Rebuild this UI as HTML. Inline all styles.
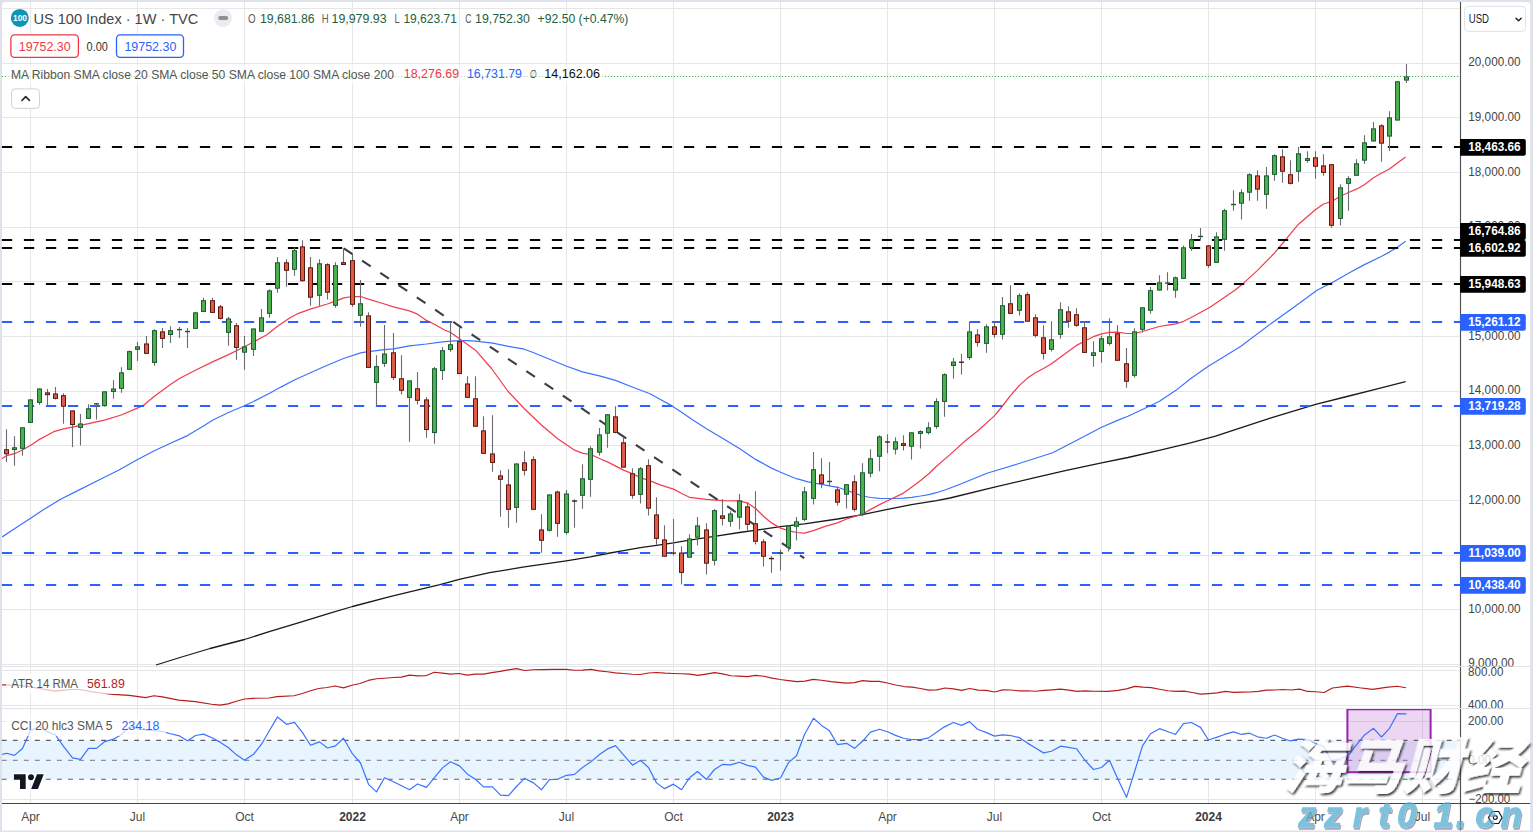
<!DOCTYPE html><html><head><meta charset="utf-8"><title>US 100 Index chart</title><style>html,body{margin:0;padding:0;background:#fff}body{width:1533px;height:832px;overflow:hidden}svg{display:block}</style></head><body><svg width="1533" height="832" viewBox="0 0 1533 832" style="font-family:'Liberation Sans','Noto Sans CJK SC',sans-serif">
<rect width="1533" height="832" fill="#dfe2ea"/>
<path d="M2 830.6V5.5a3.5 3.5 0 0 1 3.5-3.5H1526.7a3.5 3.5 0 0 1 3.5 3.5V830.6z" fill="#fff"/>
<defs><clipPath id="main"><rect x="2" y="2" width="1458" height="664.5"/></clipPath><clipPath id="all"><rect x="2" y="2" width="1458" height="801"/></clipPath><clipPath id="cci"><rect x="2" y="708.5" width="1458" height="95"/></clipPath><clipPath id="pm"><rect x="1461" y="2" width="70" height="664.6"/></clipPath><clipPath id="pa"><rect x="1461" y="666.9" width="70" height="41.4"/></clipPath><clipPath id="pc"><rect x="1461" y="708.8" width="70" height="94.2"/></clipPath></defs>
<g stroke="#e6e6e6" stroke-width="1" shape-rendering="auto">
<line x1="30.5" y1="2" x2="30.5" y2="803" />
<line x1="137.5" y1="2" x2="137.5" y2="803" />
<line x1="244.5" y1="2" x2="244.5" y2="803" />
<line x1="352.5" y1="2" x2="352.5" y2="803" />
<line x1="459.5" y1="2" x2="459.5" y2="803" />
<line x1="566.5" y1="2" x2="566.5" y2="803" />
<line x1="673.5" y1="2" x2="673.5" y2="803" />
<line x1="780.5" y1="2" x2="780.5" y2="803" />
<line x1="887.5" y1="2" x2="887.5" y2="803" />
<line x1="994.5" y1="2" x2="994.5" y2="803" />
<line x1="1101.5" y1="2" x2="1101.5" y2="803" />
<line x1="1208.5" y1="2" x2="1208.5" y2="803" />
<line x1="1315.5" y1="2" x2="1315.5" y2="803" />
<line x1="1422.5" y1="2" x2="1422.5" y2="803" />
<line x1="2" y1="664.5" x2="1459" y2="664.5"/>
<line x1="2" y1="609.5" x2="1459" y2="609.5"/>
<line x1="2" y1="555.5" x2="1459" y2="555.5"/>
<line x1="2" y1="500.5" x2="1459" y2="500.5"/>
<line x1="2" y1="445.5" x2="1459" y2="445.5"/>
<line x1="2" y1="391.5" x2="1459" y2="391.5"/>
<line x1="2" y1="336.5" x2="1459" y2="336.5"/>
<line x1="2" y1="281.5" x2="1459" y2="281.5"/>
<line x1="2" y1="227.5" x2="1459" y2="227.5"/>
<line x1="2" y1="172.5" x2="1459" y2="172.5"/>
<line x1="2" y1="117.5" x2="1459" y2="117.5"/>
<line x1="2" y1="63.5" x2="1459" y2="63.5"/>
<line x1="2" y1="8.5" x2="1459" y2="8.5"/>
<line x1="2" y1="670.5" x2="1459" y2="670.5"/>
<line x1="2" y1="705.5" x2="1459" y2="705.5"/>
<line x1="2" y1="721.5" x2="1459" y2="721.5"/>
<line x1="2" y1="760.5" x2="1459" y2="760.5"/>
<line x1="2" y1="799.5" x2="1459" y2="799.5"/>
</g>
<rect x="2" y="740.4" width="1458" height="38.9" fill="#e8f4fe"/>
<line x1="1.8" y1="740.4" x2="1460" y2="740.4" stroke="#5d606b" stroke-width="1.1" stroke-dasharray="4.9 6.13"/>
<line x1="1.8" y1="760.4" x2="1460" y2="760.4" stroke="#8e9199" stroke-width="1.1" stroke-dasharray="4.9 6.13"/>
<line x1="1.8" y1="779.3" x2="1460" y2="779.3" stroke="#5d606b" stroke-width="1.1" stroke-dasharray="4.9 6.13"/>
<line x1="1.9" y1="76.5" x2="1460" y2="76.5" stroke="#4caf50" stroke-width="1.1" stroke-dasharray="1.3 1.7"/>
<g clip-path="url(#main)">
<polyline fill="none" stroke="#1a1a1a" stroke-width="1.3" stroke-linejoin="round"  points="156,665 180,657.5 210,648.5 244.5,639.5 270,631.4 300,622.4 330,613.1 352.5,606.5 390,596.6 420,589.4 440,584.6 459.2,579.4 489.6,572.7 524.4,566.9 566.3,560.8 590.4,556.9 607.3,553.5 623.5,550.6 640.4,547.7 656.5,545.4 673.5,542.9 689.4,540.1 714.4,536.3 739.4,532.5 763.5,529.2 780.6,526.7 804.4,523.8 837.5,519 862.5,514.6 887.5,509.4 911.5,504.6 936.5,500.6 950,498 994.5,487.2 1033.9,477.9 1065.2,470.7 1101.6,462.8 1127.9,457.5 1159.2,450.3 1190.5,442.8 1215.5,436.2 1240.6,427.8 1271.9,417.7 1315.7,404.3 1347,396.5 1378.3,388.6 1405.6,381.7"/>
<polyline fill="none" stroke="#3b73ff" stroke-width="1.2" stroke-linejoin="round"  points="2.2,536.9 14.1,529 30.6,518.2 43.3,509.8 60.6,499.2 75.8,491.6 97.4,480.8 119,470 136.2,460.3 153.8,451 170.4,443.3 187.5,435.6 203.5,426 212.5,420.2 228.5,412.5 244.4,405.8 253.5,401.5 269.6,393.3 280.8,387.1 294.4,380 310.4,372.7 327.3,365.2 343.5,358.5 360.6,352.9 368.5,351.7 384.4,349.7 393.5,348.8 409.5,345.8 426.5,344 442.5,341.9 450.6,341.2 459.6,340.6 467.5,340.6 475.4,341.2 492.7,343.1 508.5,346.3 524.4,349.2 533.7,352.7 549.6,359.2 566.7,366.2 582.5,371.9 599.4,375.8 615.6,380.4 631.5,386.7 650,393.8 660,399.3 672,405.9 682,412.6 691.7,419.3 706.5,428.7 722.5,438.3 739.4,448.5 755.6,459.4 771.5,468.1 780.6,472.3 796.5,478.7 808.1,481.9 821.5,484.4 837.5,487.3 846.5,490.2 854.4,493.1 862.5,496 870.6,497.5 879.6,498.3 887.5,498.5 895.6,498.5 903.5,498.1 911.5,497.3 920.6,496 928.7,494.6 936.5,492.7 945,490 958.8,484.7 987,473.2 1018.3,463.8 1052.7,452.8 1077.8,439.7 1101.6,427.2 1117.5,420.4 1127.9,416.3 1146.6,407.5 1159.4,401.2 1175.6,390.6 1190.5,378.8 1208.3,366.2 1240.6,346.4 1271.9,322.9 1293.8,307.2 1317.4,290 1331.5,282.9 1348.5,273.3 1364.4,264.6 1381.3,256.5 1389.4,252.1 1397.7,246.9 1405.6,241.2"/>
<polyline fill="none" stroke="#f23d50" stroke-width="1.25" stroke-linejoin="round"  points="2,458.7 6.7,455.6 14.4,453.7 22.4,450 30.8,445.2 38.5,439.9 53.8,431.7 63.5,428.8 72.3,427.1 88.5,423.7 104.4,420.2 121.3,415 137.3,408.1 143.3,405.4 154.4,396.2 170.4,384.6 179.4,378.5 195.4,370.2 212.5,361.9 228.5,354.6 244.4,346.8 253.5,342 266.9,334.8 277.5,326.2 290,317.8 297.7,313.7 310.4,309.2 327.3,304 335.6,301.2 343.8,297.9 352.5,296.5 360.6,296.5 368.5,299.2 384.4,304 393.5,306.9 409.4,310.8 417.5,314.2 426.5,320.4 434.4,324.2 444.6,330 450.6,332.5 459.5,338.7 467.5,344.4 475.5,350.2 491.5,368.5 508.1,391.5 524.4,408.8 541.7,425.2 557.7,438.7 574.6,450.2 582.4,453.1 592,455 599.4,458.5 607.4,461.9 623.6,470.1 631.5,473.3 640.5,477.6 651.5,481.3 659.4,484.6 673.5,489.1 682.3,493.8 689.4,497.3 706.4,499.4 722.5,500.6 739.4,500.8 747.5,503.1 755.6,508.5 763.5,516.2 771.5,522.9 780.6,528.1 788.5,530.6 796.5,532.5 804.4,533.1 813.5,530.6 824.4,526.7 837.5,522.9 846.5,519 862.5,514.2 870.6,509.4 879.6,504.6 887.5,500.8 903.5,493.1 911.5,487.3 920.6,480.6 928.7,473.8 936.5,466.2 950,454.6 966.2,440 977.7,431 994.6,415.6 1002.5,406 1010.6,395.4 1019.4,385.4 1027.5,378.1 1035.4,372.7 1043.5,368.5 1051.5,363.7 1060.6,356.9 1068.5,351.2 1076.5,345.4 1084.4,341.2 1093.5,336.7 1101.5,333.8 1109.4,332.3 1117.5,332.1 1126.5,333.5 1134.4,333.3 1142.5,331.5 1150.6,329 1159.4,326.5 1167.5,325.2 1175.6,323.8 1183.7,321.3 1193.1,316.5 1200.8,312.3 1210,307.3 1235.2,290 1243.8,282.9 1257.5,270.4 1274.4,253.1 1282.5,243.5 1290.4,233.8 1298.5,224.2 1307.5,216.5 1315.4,209.8 1323.5,204 1331.5,201.5 1340.4,196.3 1348.5,192.5 1356.3,189.2 1364.4,184.8 1373.5,177.7 1381.3,173.3 1389.4,169 1397.7,162.7 1405.6,156.9"/>
</g>
<line x1="1.9" y1="147" x2="1460" y2="147" stroke="#050505" stroke-width="2.1" stroke-dasharray="10.3 11.7"/>
<line x1="1.9" y1="240" x2="1460" y2="240" stroke="#050505" stroke-width="2.1" stroke-dasharray="10.3 11.7"/>
<line x1="1.9" y1="248" x2="1460" y2="248" stroke="#050505" stroke-width="2.1" stroke-dasharray="10.3 11.7"/>
<line x1="1.9" y1="284" x2="1460" y2="284" stroke="#050505" stroke-width="2.1" stroke-dasharray="10.3 11.7"/>
<line x1="1.9" y1="322" x2="1460" y2="322" stroke="#2962ff" stroke-width="2.1" stroke-dasharray="10.3 11.7"/>
<line x1="1.9" y1="406" x2="1460" y2="406" stroke="#2962ff" stroke-width="2.1" stroke-dasharray="10.3 11.7"/>
<line x1="1.9" y1="553" x2="1460" y2="553" stroke="#2962ff" stroke-width="2.1" stroke-dasharray="10.3 11.7"/>
<line x1="1.9" y1="585" x2="1460" y2="585" stroke="#2962ff" stroke-width="2.1" stroke-dasharray="10.3 11.7"/>
<line x1="343.8" y1="248.3" x2="804.2" y2="558.1" stroke="#3a3e4a" stroke-width="2.1" stroke-dasharray="10.4 11.6"/>
<g clip-path="url(#main)">
<path d="M6.5 429.23V461.92M14.5 436.15V465.77M22.5 427.31V455.77M30.5 399.04V422.5M39.5 388.46V404.81M47.5 389.04V405.77M55.5 387.12V399.62M63.5 393.27V423.65M72.5 410.38V446.92M80.5 414.04V445.58M88.5 404.23V418.46M96.5 403.27V419.62M104.5 391.35V406.73M113.5 380.19V398.85M121.5 367.31V392.69M129.5 350.38V369.42M137.5 341.92V360.96M146.5 335.96V353.46M154.5 329.23V365.77M162.5 328.08V347.88M170.5 326.15V342.88M179.5 327.12V337.88M187.5 328.08V347.88M195.5 312.31V328.46M203.5 297.69V311.54M212.5 297.69V312.5M220.5 305V319.62M228.5 317.12V345.77M236.5 323.08V359.81M244.5 335.96V369.81M253.5 328.46V355.96M261.5 309.04V331.35M269.5 289.23V317.69M277.5 257.12V292.69M286.5 259.23V286.73M294.5 247.31V275.77M302.5 240.19V281.73M310.5 257.12V305.77M319.5 259.23V305.77M327.5 263.27V299.62M335.5 262.31V307.69M343.5 248.27V264.42M352.5 253.46V306.92M360.5 280V326.73M368.5 312.31V367.5M376.5 355.19V405.58M384.5 325V366.92M393.5 333.08V380M401.5 355.19V394.62M409.5 380.38V441.73M417.5 372.12V404.62M426.5 397.12V437.69M434.5 367.12V443.65M442.5 347.12V380M450.5 321.92V351.73M459.5 327.12V373.65M467.5 376.15V397.5M475.5 376.15V426.35M483.5 416.15V453.46M492.5 415.19V471.73M500.5 470.19V516.73M508.5 469.23V527.69M516.5 463.46V522.69M524.5 451.35V475.58M533.5 456.35V509.42M541.5 514.23V552.69M549.5 494.42V531.54M557.5 490.38V536.73M566.5 490V534.62M574.5 499.23V527.69M582.5 464.23V508.65M590.5 446.15V496.73M599.5 428.08V455.58M607.5 414.23V447.69M615.5 406.35V433.27M623.5 437.31V467.31M632.5 468.27V498.65M640.5 467.12V503.46M648.5 459.23V515.38M656.5 497.31V544.81M664.5 525.19V556.35M673.5 519.04V555.58M681.5 546.35V584.62M689.5 534.23V557.31M697.5 517.12V545.38M706.5 523.27V574.62M714.5 509.04V565.58M722.5 499.04V525.58M730.5 511.15V526.73M739.5 494.04V529.62M747.5 502.31V530.58M755.5 491.15V544.42M763.5 539.23V566.54M771.5 556.35V572.69M780.5 549.42V570.58M788.5 525.38V551.54M796.5 517.12V540.58M804.5 487.12V521.35M813.5 452.12V504.62M821.5 458.27V488.27M829.5 462.12V486.35M837.5 486.35V505.58M846.5 484.23V508.46M854.5 475.19V511.54M862.5 463.27V516.15M870.5 449.23V477.31M879.5 435.19V471.35M887.5 434.23V453.27M895.5 437.31V454.62M903.5 435.19V450.38M911.5 432.31V459.42M920.5 430.19V448.46M928.5 422.31V434.62M936.5 398.27V428.65M944.5 373.27V416.73M953.5 358.08V378.85M961.5 354.04V374.62M969.5 321.15V359.81M977.5 329.23V346.73M986.5 324.23V352.69M994.5 321.15V337.69M1002.5 297.12V339.62M1010.5 285.19V313.46M1019.5 293.27V315.58M1027.5 292.31V321.35M1035.5 314.23V337.5M1043.5 325.19V359.62M1051.5 321.15V351.54M1060.5 302.31V338.65M1068.5 306.15V327.69M1076.5 308.27V326.73M1084.5 321.15V352.5M1093.5 341.35V366.73M1101.5 335.38V362.69M1109.5 318.27V345.58M1117.5 325.19V360.38M1126.5 348.08V387.69M1134.5 328.27V377.5M1142.5 307.31V332.5M1150.5 287.12V313.65M1159.5 275.19V290.19M1167.5 272.31V290.58M1175.5 276.54V297.69M1183.5 245.38V278.46M1191.5 234.04V250.77M1200.5 228.08V240.58M1208.5 245V267.69M1216.5 232.31V262.5M1224.5 208.85V250.77M1233.5 190.19V210.77M1241.5 189.23V219.62M1249.5 173.27V200.77M1257.5 170.19V200.77M1266.5 167.12V208.65M1274.5 154.23V180.77M1282.5 149.23V182.69M1290.5 160.19V184.62M1298.5 147.12V181.73M1307.5 151.15V162.69M1315.5 151.15V178.65M1323.5 154.23V175.77M1331.5 164.23V227.69M1340.5 184.23V225.58M1348.5 176.15V210.77M1356.5 159.23V175.38M1364.5 135.14V164M1373.5 122.01V141.49M1381.5 124.31V161.83M1389.5 111.18V151.01M1397.5 81.02V120.56M1406.5 64V83.04" stroke="#6c6c70" stroke-width="1.1" fill="none"/>
<g fill="#4caf50" stroke="#1d5a30" stroke-width="1"><rect x="12.5" y="447.76" width="4" height="1.8"/><rect x="20.5" y="427.81" width="4" height="20.55"/><rect x="28.5" y="399.92" width="4" height="22.48"/><rect x="37.5" y="388.96" width="4" height="13.44"/><rect x="78.5" y="423.96" width="4" height="3.44"/><rect x="86.5" y="408.77" width="4" height="9.59"/><rect x="94" y="403.15" width="5" height="1.4" stroke="none" fill="#1d5a30"/><rect x="102.5" y="391.85" width="4" height="13.82"/><rect x="111.5" y="388.96" width="4" height="2.48"/><rect x="119.5" y="372.81" width="4" height="15.55"/><rect x="127.5" y="351.65" width="4" height="17.67"/><rect x="135.5" y="346.85" width="4" height="2.48"/><rect x="152.5" y="330.69" width="4" height="31.71"/><rect x="168.5" y="330.69" width="4" height="3.82"/><rect x="177" y="328.92" width="5" height="1.4" stroke="none" fill="#1d5a30"/><rect x="185" y="330.85" width="5" height="1.4" stroke="none" fill="#1d5a30"/><rect x="193.5" y="312.81" width="4" height="15.55"/><rect x="201.5" y="300.69" width="4" height="10.75"/><rect x="226.5" y="318.96" width="4" height="13.44"/><rect x="242.5" y="346.85" width="4" height="5.36"/><rect x="251.5" y="328.96" width="4" height="20.36"/><rect x="259.5" y="317.81" width="4" height="13.44"/><rect x="267.5" y="290.88" width="4" height="22.48"/><rect x="275.5" y="262.81" width="4" height="25.36"/><rect x="292.5" y="250.69" width="4" height="18.63"/><rect x="317.5" y="263.77" width="4" height="31.52"/><rect x="333.5" y="265.69" width="4" height="39.59"/><rect x="358.5" y="303.77" width="4" height="11.52"/><rect x="374.5" y="366.65" width="4" height="15.75"/><rect x="382.5" y="353.96" width="4" height="9.4"/><rect x="407.5" y="380.88" width="4" height="16.52"/><rect x="432.5" y="368.77" width="4" height="63.82"/><rect x="440.5" y="350.69" width="4" height="19.78"/><rect x="448.5" y="344.73" width="4" height="4.78"/><rect x="514.5" y="463.96" width="4" height="43.44"/><rect x="547.5" y="494.92" width="4" height="35.36"/><rect x="564.5" y="493.96" width="4" height="38.44"/><rect x="580.5" y="478.77" width="4" height="16.52"/><rect x="588.5" y="448.77" width="4" height="30.55"/><rect x="597.5" y="434.92" width="4" height="17.28"/><rect x="605.5" y="414.73" width="4" height="18.44"/><rect x="638.5" y="468.77" width="4" height="25.55"/><rect x="687.5" y="538.96" width="4" height="18.25"/><rect x="695.5" y="525.88" width="4" height="11.32"/><rect x="712.5" y="510.69" width="4" height="49.59"/><rect x="728.5" y="513.96" width="4" height="7.28"/><rect x="737.5" y="500.88" width="4" height="16.32"/><rect x="778" y="552.48" width="5" height="1.4" stroke="none" fill="#1d5a30"/><rect x="786.5" y="525.88" width="4" height="21.32"/><rect x="794.5" y="521.85" width="4" height="4.4"/><rect x="802.5" y="491.85" width="4" height="27.48"/><rect x="811.5" y="469.73" width="4" height="28.63"/><rect x="827" y="480.75" width="5" height="1.4" stroke="none" fill="#1d5a30"/><rect x="844.5" y="484.73" width="4" height="9.4"/><rect x="860.5" y="472.81" width="4" height="41.32"/><rect x="868.5" y="458.77" width="4" height="14.4"/><rect x="877.5" y="436.85" width="4" height="19.4"/><rect x="893.5" y="441.85" width="4" height="7.28"/><rect x="909.5" y="432.81" width="4" height="13.44"/><rect x="918.5" y="431.61" width="4" height="1.8"/><rect x="926.5" y="427.81" width="4" height="4.78"/><rect x="934.5" y="401.65" width="4" height="24.78"/><rect x="942.5" y="374.73" width="4" height="26.71"/><rect x="951.5" y="362.04" width="4" height="3.44"/><rect x="967.5" y="331.85" width="4" height="25.55"/><rect x="984.5" y="326.85" width="4" height="16.52"/><rect x="1000.5" y="305.69" width="4" height="28.63"/><rect x="1017.5" y="295.69" width="4" height="14.59"/><rect x="1049.5" y="339.73" width="4" height="9.59"/><rect x="1058.5" y="309.73" width="4" height="24.59"/><rect x="1091.5" y="352.81" width="4" height="2.67"/><rect x="1099.5" y="338.77" width="4" height="12.67"/><rect x="1107.5" y="336.85" width="4" height="6.52"/><rect x="1132.5" y="331.85" width="4" height="43.44"/><rect x="1140.5" y="307.81" width="4" height="21.52"/><rect x="1148.5" y="290.69" width="4" height="19.59"/><rect x="1157.5" y="282.81" width="4" height="7.28"/><rect x="1165" y="282.38" width="5" height="1.4" stroke="none" fill="#1d5a30"/><rect x="1173.5" y="277.81" width="4" height="12.28"/><rect x="1181.5" y="247.81" width="4" height="30.55"/><rect x="1189.5" y="239.92" width="4" height="7.48"/><rect x="1198" y="235.75" width="5" height="1.4" stroke="none" fill="#1d5a30"/><rect x="1214.5" y="236.85" width="4" height="25.55"/><rect x="1222.5" y="210.69" width="4" height="28.63"/><rect x="1231" y="203.83" width="5" height="1.4" stroke="none" fill="#1d5a30"/><rect x="1239.5" y="192.81" width="4" height="10.36"/><rect x="1247.5" y="174.73" width="4" height="17.48"/><rect x="1264.5" y="175.88" width="4" height="18.44"/><rect x="1272.5" y="155.69" width="4" height="18.63"/><rect x="1296.5" y="153.77" width="4" height="17.48"/><rect x="1305.5" y="158.63" width="4" height="1.8"/><rect x="1338.5" y="187.81" width="4" height="30.55"/><rect x="1346.5" y="178.77" width="4" height="4.59"/><rect x="1354.5" y="163.77" width="4" height="11.52"/><rect x="1362.5" y="142.85" width="4" height="17.33"/><rect x="1371.5" y="128.85" width="4" height="12.13"/><rect x="1387.5" y="117.89" width="4" height="18.19"/><rect x="1395.5" y="81.81" width="4" height="38.25"/><rect x="1404.5" y="76.91" width="4" height="3.18"/></g>
<g fill="#e05a47" stroke="#5a1710" stroke-width="1"><rect x="4.5" y="449.73" width="4" height="4.02"/><rect x="45.5" y="392.86" width="4" height="1.8"/><rect x="53.5" y="393.96" width="4" height="4.4"/><rect x="61.5" y="395.69" width="4" height="10.55"/><rect x="70.5" y="410.88" width="4" height="13.63"/><rect x="144.5" y="343.96" width="4" height="9.4"/><rect x="160.5" y="331.85" width="4" height="6.52"/><rect x="210.5" y="300.69" width="4" height="11.71"/><rect x="218.5" y="306.85" width="4" height="11.52"/><rect x="234.5" y="325.69" width="4" height="21.71"/><rect x="284.5" y="262.81" width="4" height="7.48"/><rect x="300.5" y="246.85" width="4" height="33.82"/><rect x="308.5" y="267.81" width="4" height="29.4"/><rect x="325.5" y="264.73" width="4" height="27.48"/><rect x="341.5" y="262.67" width="4" height="1.8"/><rect x="350.5" y="260.69" width="4" height="43.63"/><rect x="366.5" y="315.88" width="4" height="51.52"/><rect x="391.5" y="352.81" width="4" height="24.59"/><rect x="399.5" y="378.77" width="4" height="11.52"/><rect x="415.5" y="388.77" width="4" height="11.52"/><rect x="424.5" y="399.92" width="4" height="29.59"/><rect x="457.5" y="341.65" width="4" height="31.9"/><rect x="465.5" y="383.96" width="4" height="13.44"/><rect x="473.5" y="398.77" width="4" height="27.48"/><rect x="481.5" y="430.88" width="4" height="22.48"/><rect x="490.5" y="453.96" width="4" height="8.44"/><rect x="498.5" y="475.88" width="4" height="3.44"/><rect x="506.5" y="484.92" width="4" height="24.4"/><rect x="522.5" y="462.81" width="4" height="7.48"/><rect x="531.5" y="459.73" width="4" height="49.59"/><rect x="539.5" y="529.92" width="4" height="10.36"/><rect x="555.5" y="492.04" width="4" height="31.32"/><rect x="572" y="500.37" width="5" height="1.4" stroke="none" fill="#5a1710"/><rect x="613.5" y="416.85" width="4" height="15.55"/><rect x="621.5" y="442.81" width="4" height="24.4"/><rect x="630.5" y="473.77" width="4" height="21.52"/><rect x="646.5" y="465.69" width="4" height="42.48"/><rect x="654.5" y="514.92" width="4" height="23.44"/><rect x="662.5" y="539.92" width="4" height="16.32"/><rect x="671" y="552.38" width="5" height="1.4" stroke="none" fill="#5a1710"/><rect x="679.5" y="553" width="4" height="19.4"/><rect x="704.5" y="529.92" width="4" height="33.25"/><rect x="720.5" y="515.88" width="4" height="2.48"/><rect x="745.5" y="506.85" width="4" height="17.48"/><rect x="753.5" y="523.77" width="4" height="17.48"/><rect x="761.5" y="541.85" width="4" height="14.4"/><rect x="769" y="557.87" width="5" height="1.4" stroke="none" fill="#5a1710"/><rect x="819.5" y="474.92" width="4" height="8.44"/><rect x="835.5" y="489.92" width="4" height="12.28"/><rect x="852.5" y="481.85" width="4" height="27.48"/><rect x="885" y="441.33" width="5" height="1.4" stroke="none" fill="#5a1710"/><rect x="901.5" y="443.63" width="4" height="1.8"/><rect x="959" y="361.52" width="5" height="1.4" stroke="none" fill="#5a1710"/><rect x="975.5" y="334.92" width="4" height="7.48"/><rect x="992.5" y="326.85" width="4" height="7.48"/><rect x="1008.5" y="303.77" width="4" height="9.59"/><rect x="1025.5" y="294.73" width="4" height="26.52"/><rect x="1033.5" y="317.81" width="4" height="17.48"/><rect x="1041.5" y="337.81" width="4" height="15.55"/><rect x="1066.5" y="311.85" width="4" height="9.4"/><rect x="1074.5" y="314.73" width="4" height="10.55"/><rect x="1082.5" y="327.81" width="4" height="24.59"/><rect x="1115.5" y="333.77" width="4" height="26.52"/><rect x="1124.5" y="363.77" width="4" height="17.48"/><rect x="1206.5" y="245.88" width="4" height="19.4"/><rect x="1255.5" y="175.88" width="4" height="13.25"/><rect x="1280.5" y="156.85" width="4" height="14.4"/><rect x="1288.5" y="174.73" width="4" height="8.63"/><rect x="1313.5" y="157.81" width="4" height="8.44"/><rect x="1321.5" y="165.88" width="4" height="6.52"/><rect x="1329.5" y="164.73" width="4" height="60.55"/><rect x="1379.5" y="125.82" width="4" height="17.33"/></g>
</g>
<polyline fill="none" stroke="#b71c1c" stroke-width="1.15" stroke-linejoin="round"  points="2.17,684.94 18.07,685.3 30.36,686.74 38.85,688.55 55.11,691.08 71.56,689.45 79.87,689.45 96.31,692.53 112.76,694.33 129.2,695.42 145.65,697.59 153.96,695.78 162.27,696.86 178.71,700.12 195.16,701.56 211.6,704.27 219.91,705.18 228.04,703.91 236.36,701.2 244.67,699.03 252.98,698.31 269.24,697.95 277.01,696.68 293.99,695.78 302.3,693.43 310.61,690.72 318.74,688.55 327.05,687.47 335.19,686.02 343.5,687.83 351.81,685.3 360.12,683.49 368.25,680.42 376.39,678.79 384.7,678.25 393.01,677.53 401.32,677.17 409.45,675.18 417.59,675.9 425.9,675.72 434.21,672.29 442.34,673.19 450.65,674.09 458.97,673.55 467.1,675.18 475.41,674.09 483.54,674.09 491.85,672.65 500.17,671.38 508.3,669.94 516.61,668.67 524.74,670.48 533.05,669.76 541.19,669.58 554.01,669.4 566.11,669.4 574.24,670.3 582.55,670.12 590.86,669.4 598.99,670.84 607.31,671.75 615.44,672.83 623.75,673.55 632.06,674.28 640.19,674.46 648.51,673.01 656.64,672.47 664.95,673.19 673.26,673.55 681.39,673.73 689.71,674.09 697.84,675.36 706.15,674.09 714.46,672.65 722.59,673.91 730.91,675.72 739.04,676.08 747.35,676.62 755.66,675.36 763.79,676.26 772.11,678.07 780.24,679.52 788.55,680.6 796.86,681.68 804.99,681.14 813.31,679.34 821.44,680.24 831.01,681.68 846.18,683.13 854.49,682.59 862.8,680.6 870.93,681.32 879.25,681.32 887.38,682.95 895.69,684.94 904,686.56 912.13,687.11 920.45,688.55 928.58,690.18 936.89,689.82 945.2,688.01 953.33,688.91 961.65,690.36 969.78,688.55 978.09,690.18 986.4,690.36 994.53,691.98 1002.85,689.82 1010.98,690 1019.29,690.9 1027.6,690.72 1035.73,691.26 1044.05,690.36 1052.18,689.82 1060.49,689.09 1068.8,690.18 1076.93,691.44 1085.25,690.9 1093.38,691.26 1108.01,691.44 1118.12,690.36 1126.43,688.91 1134.74,686.38 1142.88,687.11 1151.19,687.65 1159.5,689.27 1167.63,690.72 1175.94,691.44 1184.08,691.08 1192.39,692.53 1200.52,694.15 1208.83,693.61 1217.14,692.89 1225.28,691.44 1233.59,692.35 1241.72,692.16 1250.03,691.98 1258.34,691.44 1266.47,690.18 1274.79,690 1282.92,689.45 1291.23,690 1299.54,689.09 1307.67,691.44 1315.99,691.8 1324.12,692.53 1332.43,688.01 1347.5,686.1 1359.4,687.8 1372.7,689.4 1385.9,687.4 1397.1,686.2 1406,687.7"/>
<g clip-path="url(#cci)">
<rect x="1347.4" y="709.3" width="83.2" height="62.9" fill="rgba(170,60,190,0.21)" stroke="#9c22b0" stroke-width="2"/>
<polyline fill="none" stroke="#3b73ff" stroke-width="1.2" stroke-linejoin="round"  points="2.2,754.33 6.5,753.24 14.5,755.41 22.5,748.54 30.5,730.47 39.5,726.5 47.5,731.92 55.5,734.99 63.5,746.38 72.5,757.94 80.5,759.39 88.5,748.36 96.5,748.36 104.5,741.68 113.5,739.15 121.5,734.45 129.5,726.86 137.5,728.67 146.5,730.11 154.5,730.47 162.5,731.56 170.5,733.73 179.5,735.89 187.5,740.77 195.5,735.53 203.5,734.09 212.5,738.06 220.5,742.4 228.5,747.82 236.5,754.87 244.5,760.29 253.5,754.33 261.5,744.21 269.5,730.47 277.5,716.92 286.5,724.33 294.5,722.34 302.5,732.64 310.5,745.29 319.5,741.86 327.5,748 335.5,745.83 343.5,738.24 352.5,753.96 360.5,763 368.5,784.32 376.5,791.91 384.5,777.82 393.5,781.79 401.5,785.77 409.5,789.74 417.5,783.96 426.5,787.39 434.5,777.46 442.5,767.88 450.5,761.73 459.5,765.89 467.5,774.2 475.5,779.26 483.5,786.85 492.5,786.85 500.5,795.16 508.5,795.53 516.5,786.49 524.5,778.36 533.5,782.88 541.5,789.74 549.5,779.62 557.5,779.26 566.5,775.29 574.5,774.38 582.5,767.52 590.5,762.1 599.5,754.51 607.5,748.9 615.5,745.65 623.5,754.87 632.5,765.17 640.5,760.29 648.5,767.52 656.5,782.88 664.5,788.66 673.5,784.14 681.5,789.74 689.5,777.82 697.5,771.49 706.5,779.44 714.5,769.5 722.5,764.45 730.5,764.81 739.5,762.28 747.5,765.35 755.5,767.16 763.5,777.09 771.5,780.35 780.5,778 788.5,762.64 796.5,755.77 804.5,734.45 813.5,718.19 821.5,725.41 829.5,730.83 837.5,744.57 846.5,743.3 854.5,748.36 862.5,741.32 870.5,732.1 879.5,729.21 887.5,731.74 895.5,735.35 903.5,738.24 911.5,739.51 920.5,739.69 928.5,737.88 936.5,732.28 944.5,726.86 953.5,722.52 961.5,725.41 969.5,721.62 977.5,729.21 986.5,732.64 994.5,736.08 1002.5,734.81 1010.5,735.53 1019.5,737.7 1027.5,743.12 1035.5,748 1043.5,752.88 1051.5,751.25 1060.5,746.19 1068.5,747.46 1076.5,748.72 1084.5,759.75 1093.5,769.5 1101.5,767.52 1109.5,760.29 1117.5,778.36 1126.5,797.33 1134.5,772.03 1142.5,745.83 1150.5,733.73 1159.5,728.67 1167.5,731.56 1175.5,734.45 1183.5,723.61 1191.5,722.52 1200.5,727.4 1208.5,740.05 1216.5,737.34 1224.5,734.45 1233.5,731.92 1241.5,734.45 1249.5,733.18 1257.5,736.8 1266.5,738.24 1274.5,734.99 1282.5,738.24 1290.5,740.95 1298.5,739.15 1307.5,739.51 1315.5,743.66 1323.5,746.38 1331.5,760.29 1340.5,758.84 1348.5,755.23 1356.5,744.93 1364.5,734.9 1373.5,728.31 1381.5,736.98 1389.5,728.31 1397.5,713.6 1406.5,713.79"/>
</g>
<line x1="1460.5" y1="2" x2="1460.5" y2="830.5" stroke="#505050" stroke-width="1.15"/>
<line x1="2" y1="666.5" x2="1530" y2="666.5" stroke="#e0e3eb" stroke-width="1.1"/>
<line x1="2" y1="708.5" x2="1530" y2="708.5" stroke="#e0e3eb" stroke-width="1.1"/>
<line x1="2" y1="803.5" x2="1530.2" y2="803.5" stroke="#444" stroke-width="1.1"/>
<g clip-path="url(#pm)">
<text x="1468.3" y="667.4" font-size="12" fill="#454545" font-weight="normal" textLength="45.8" lengthAdjust="spacingAndGlyphs">9,000.00</text>
<text x="1468.3" y="613.2" font-size="12" fill="#454545" font-weight="normal" textLength="52.2" lengthAdjust="spacingAndGlyphs">10,000.00</text>
<text x="1468.3" y="504" font-size="12" fill="#454545" font-weight="normal" textLength="52.2" lengthAdjust="spacingAndGlyphs">12,000.00</text>
<text x="1468.3" y="449.1" font-size="12" fill="#454545" font-weight="normal" textLength="52.2" lengthAdjust="spacingAndGlyphs">13,000.00</text>
<text x="1468.3" y="394" font-size="12" fill="#454545" font-weight="normal" textLength="52.2" lengthAdjust="spacingAndGlyphs">14,000.00</text>
<text x="1468.3" y="340.1" font-size="12" fill="#454545" font-weight="normal" textLength="52.2" lengthAdjust="spacingAndGlyphs">15,000.00</text>
<text x="1468.3" y="230.42" font-size="12" fill="#454545" font-weight="normal" textLength="52.2" lengthAdjust="spacingAndGlyphs">17,000.00</text>
<text x="1468.3" y="176.3" font-size="12" fill="#454545" font-weight="normal" textLength="52.2" lengthAdjust="spacingAndGlyphs">18,000.00</text>
<text x="1468.3" y="120.9" font-size="12" fill="#454545" font-weight="normal" textLength="52.2" lengthAdjust="spacingAndGlyphs">19,000.00</text>
<text x="1468.3" y="65.8" font-size="12" fill="#454545" font-weight="normal" textLength="52.2" lengthAdjust="spacingAndGlyphs">20,000.00</text>
</g>
<g clip-path="url(#pa)">
<text x="1468.1" y="675.5" font-size="12" fill="#454545" font-weight="normal" textLength="35.4" lengthAdjust="spacingAndGlyphs">800.00</text>
<text x="1468.1" y="708.6" font-size="12" fill="#454545" font-weight="normal" textLength="35.4" lengthAdjust="spacingAndGlyphs">400.00</text>
</g>
<g clip-path="url(#pc)">
<text x="1468.1" y="725.1" font-size="12" fill="#454545" font-weight="normal" textLength="35.4" lengthAdjust="spacingAndGlyphs">200.00</text>
<text x="1468.1" y="763.8" font-size="12" fill="#454545" font-weight="normal" textLength="22.9" lengthAdjust="spacingAndGlyphs">0.00</text>
<text x="1468.5" y="803" font-size="12" fill="#454545" font-weight="normal" textLength="41.7" lengthAdjust="spacingAndGlyphs">−200.00</text>
</g>
<path d="M1460.1 139 h63.7 a2 2 0 0 1 2 2 v12.8 a2 2 0 0 1 -2 2 h-63.7z" fill="#000"/>
<text x="1468.2" y="150.9" font-size="12" fill="#fff" font-weight="bold" textLength="52.5" lengthAdjust="spacingAndGlyphs">18,463.66</text>
<path d="M1460.1 223.1 h63.7 a2 2 0 0 1 2 2 v12.8 a2 2 0 0 1 -2 2 h-63.7z" fill="#000"/>
<text x="1468.2" y="235" font-size="12" fill="#fff" font-weight="bold" textLength="52.5" lengthAdjust="spacingAndGlyphs">16,764.86</text>
<path d="M1460.1 240 h63.7 a2 2 0 0 1 2 2 v12.8 a2 2 0 0 1 -2 2 h-63.7z" fill="#000"/>
<text x="1468.2" y="251.9" font-size="12" fill="#fff" font-weight="bold" textLength="52.5" lengthAdjust="spacingAndGlyphs">16,602.92</text>
<path d="M1460.1 276 h63.7 a2 2 0 0 1 2 2 v12.8 a2 2 0 0 1 -2 2 h-63.7z" fill="#000"/>
<text x="1468.2" y="287.9" font-size="12" fill="#fff" font-weight="bold" textLength="52.5" lengthAdjust="spacingAndGlyphs">15,948.63</text>
<path d="M1460.1 314 h63.7 a2 2 0 0 1 2 2 v12.8 a2 2 0 0 1 -2 2 h-63.7z" fill="#2962ff"/>
<text x="1468.2" y="325.9" font-size="12" fill="#fff" font-weight="bold" textLength="52.5" lengthAdjust="spacingAndGlyphs">15,261.12</text>
<path d="M1460.1 398 h63.7 a2 2 0 0 1 2 2 v12.8 a2 2 0 0 1 -2 2 h-63.7z" fill="#2962ff"/>
<text x="1468.2" y="409.9" font-size="12" fill="#fff" font-weight="bold" textLength="52.5" lengthAdjust="spacingAndGlyphs">13,719.28</text>
<path d="M1460.1 545 h63.7 a2 2 0 0 1 2 2 v12.8 a2 2 0 0 1 -2 2 h-63.7z" fill="#2962ff"/>
<text x="1468.2" y="556.9" font-size="12" fill="#fff" font-weight="bold" textLength="52.5" lengthAdjust="spacingAndGlyphs">11,039.00</text>
<path d="M1460.1 577 h63.7 a2 2 0 0 1 2 2 v12.8 a2 2 0 0 1 -2 2 h-63.7z" fill="#2962ff"/>
<text x="1468.2" y="588.9" font-size="12" fill="#fff" font-weight="bold" textLength="52.5" lengthAdjust="spacingAndGlyphs">10,438.40</text>
<text x="30.5" y="821.2" font-size="12" fill="#4a4a4a" font-weight="normal" text-anchor="middle">Apr</text>
<text x="137.5" y="821.2" font-size="12" fill="#4a4a4a" font-weight="normal" text-anchor="middle">Jul</text>
<text x="244.5" y="821.2" font-size="12" fill="#4a4a4a" font-weight="normal" text-anchor="middle">Oct</text>
<text x="352.5" y="821.2" font-size="12" fill="#3a3a3a" font-weight="bold" text-anchor="middle">2022</text>
<text x="459.5" y="821.2" font-size="12" fill="#4a4a4a" font-weight="normal" text-anchor="middle">Apr</text>
<text x="566.5" y="821.2" font-size="12" fill="#4a4a4a" font-weight="normal" text-anchor="middle">Jul</text>
<text x="673.5" y="821.2" font-size="12" fill="#4a4a4a" font-weight="normal" text-anchor="middle">Oct</text>
<text x="780.5" y="821.2" font-size="12" fill="#3a3a3a" font-weight="bold" text-anchor="middle">2023</text>
<text x="887.5" y="821.2" font-size="12" fill="#4a4a4a" font-weight="normal" text-anchor="middle">Apr</text>
<text x="994.5" y="821.2" font-size="12" fill="#4a4a4a" font-weight="normal" text-anchor="middle">Jul</text>
<text x="1101.5" y="821.2" font-size="12" fill="#4a4a4a" font-weight="normal" text-anchor="middle">Oct</text>
<text x="1208.5" y="821.2" font-size="12" fill="#3a3a3a" font-weight="bold" text-anchor="middle">2024</text>
<text x="1315.5" y="821.2" font-size="12" fill="#4a4a4a" font-weight="normal" text-anchor="middle">Apr</text>
<text x="1422.5" y="821.2" font-size="12" fill="#4a4a4a" font-weight="normal" text-anchor="middle">Jul</text>
<rect x="1464.5" y="6.3" width="61" height="25.2" rx="4" fill="#fff" stroke="#e0e3eb" stroke-width="1"/>
<text x="1468.7" y="23.1" font-size="12.5" fill="#1c2030" font-weight="normal" textLength="20.3" lengthAdjust="spacingAndGlyphs">USD</text>
<path d="M1516 18.3l2.6 2.4l2.6-2.4" fill="none" stroke="#222" stroke-width="1.5" stroke-linecap="round" stroke-linejoin="round"/>
<circle cx="19.8" cy="17.95" r="9" fill="#0e93b9"/>
<text x="13" y="20.9" font-size="8.4" fill="#fff" font-weight="bold" textLength="14" lengthAdjust="spacingAndGlyphs">100</text>
<text x="33.4" y="24" font-size="14.5" fill="#454545" font-weight="normal" textLength="164.9" lengthAdjust="spacingAndGlyphs">US 100 Index · 1W · TVC</text>
<circle cx="223" cy="18.1" r="8.9" fill="#ececef"/><rect x="218.2" y="16.1" width="10" height="4" rx="2" fill="#8d909b"/>
<text x="248" y="22.8" font-size="12.5" fill="#5a5a5a" font-weight="normal" textLength="7.6" lengthAdjust="spacingAndGlyphs">O</text>
<text x="260" y="22.8" font-size="12.5" fill="#22613d" font-weight="normal" textLength="54.6" lengthAdjust="spacingAndGlyphs">19,681.86</text>
<text x="321.8" y="22.8" font-size="12.5" fill="#5a5a5a" font-weight="normal" textLength="6.9" lengthAdjust="spacingAndGlyphs">H</text>
<text x="331.5" y="22.8" font-size="12.5" fill="#22613d" font-weight="normal" textLength="55.1" lengthAdjust="spacingAndGlyphs">19,979.93</text>
<text x="394.6" y="22.8" font-size="12.5" fill="#5a5a5a" font-weight="normal" textLength="5.2" lengthAdjust="spacingAndGlyphs">L</text>
<text x="403.4" y="22.8" font-size="12.5" fill="#22613d" font-weight="normal" textLength="53.5" lengthAdjust="spacingAndGlyphs">19,623.71</text>
<text x="465.3" y="22.8" font-size="12.5" fill="#5a5a5a" font-weight="normal" textLength="6.2" lengthAdjust="spacingAndGlyphs">C</text>
<text x="475.1" y="22.8" font-size="12.5" fill="#22613d" font-weight="normal" textLength="54.8" lengthAdjust="spacingAndGlyphs">19,752.30</text>
<text x="537.6" y="22.8" font-size="12.5" fill="#22613d" font-weight="normal" textLength="90.8" lengthAdjust="spacingAndGlyphs">+92.50 (+0.47%)</text>
<rect x="10.9" y="34.9" width="67.5" height="22.4" rx="3.6" fill="#fff" stroke="#f23645" stroke-width="1.3"/>
<text x="18.8" y="51" font-size="13" fill="#f23645" font-weight="normal" textLength="51.8" lengthAdjust="spacingAndGlyphs">19752.30</text>
<text x="86.6" y="50.6" font-size="12" fill="#333" font-weight="normal" textLength="21.3" lengthAdjust="spacingAndGlyphs">0.00</text>
<rect x="116.5" y="34.9" width="67" height="22.4" rx="3.6" fill="#fff" stroke="#2962ff" stroke-width="1.3"/>
<text x="124.4" y="51" font-size="13" fill="#2962ff" font-weight="normal" textLength="52" lengthAdjust="spacingAndGlyphs">19752.30</text>
<rect x="6" y="65" width="598" height="19" fill="#fff" opacity="0.6"/>
<text x="10.9" y="79" font-size="12.4" fill="#555" font-weight="normal" textLength="383" lengthAdjust="spacingAndGlyphs">MA Ribbon SMA close 20 SMA close 50 SMA close 100 SMA close 200</text>
<text x="403.8" y="78.1" font-size="12.6" fill="#f23645" font-weight="normal" textLength="55.3" lengthAdjust="spacingAndGlyphs">18,276.69</text>
<text x="467" y="78.1" font-size="12.6" fill="#2962ff" font-weight="normal" textLength="54.9" lengthAdjust="spacingAndGlyphs">16,731.79</text>
<text x="529.7" y="78.2" font-size="11.5" fill="#333" font-weight="normal" textLength="7.2" lengthAdjust="spacingAndGlyphs" font-family="DejaVu Sans">∅</text>
<text x="544.3" y="78.1" font-size="12.6" fill="#111" font-weight="normal" textLength="55.7" lengthAdjust="spacingAndGlyphs">14,162.06</text>
<rect x="11.5" y="88.9" width="28" height="19.5" rx="3.5" fill="#fff" stroke="#cfd2dc" stroke-width="1"/>
<path d="M21.9 100.5l3.8-3.9l3.8 3.9" fill="none" stroke="#222" stroke-width="1.6" stroke-linecap="round" stroke-linejoin="round"/>
<rect x="6" y="674" width="122" height="20" fill="#fff" opacity="0.7"/><rect x="6" y="716" width="160" height="20" fill="#fff" opacity="0.7"/>
<text x="11.2" y="688" font-size="12.4" fill="#555" font-weight="normal" textLength="66.8" lengthAdjust="spacingAndGlyphs">ATR 14 RMA</text>
<text x="86.9" y="688" font-size="12.6" fill="#b91c1c" font-weight="normal" textLength="37.9" lengthAdjust="spacingAndGlyphs">561.89</text>
<text x="11.2" y="729.8" font-size="12.4" fill="#555" font-weight="normal" textLength="101.2" lengthAdjust="spacingAndGlyphs">CCI 20 hlc3 SMA 5</text>
<text x="121.4" y="729.8" font-size="12.6" fill="#2962ff" font-weight="normal" textLength="38" lengthAdjust="spacingAndGlyphs">234.18</text>
<g transform="translate(13.9,774.2)" fill="#131722" stroke="#fff" stroke-width="3" paint-order="stroke"><path d="M0 0h11.8v14.7h-5.7v-9.2h-6.1z"/><circle cx="17.1" cy="3.1" r="3"/><path d="M23.1 0h6.8l-5.9 14.7h-6.8z"/></g>
<g transform="translate(1495.3,817.5)" fill="#fff" stroke="#131722" stroke-width="1.2"><path d="M-6.8 0l3.4-6h6.8l3.4 6l-3.4 6h-6.8z"/><circle r="1.9"/></g>
<defs><filter id="wm" x="-5%" y="-10%" width="112%" height="125%"><feGaussianBlur in="SourceAlpha" stdDeviation="0.8" result="b"/><feOffset in="b" dx="2.2" dy="2.2" result="o"/><feComposite in="o" in2="SourceAlpha" operator="out" result="sh"/><feFlood flood-color="#1c1c1c" flood-opacity="0.85"/><feComposite in2="sh" operator="in" result="shc"/><feComponentTransfer in="SourceGraphic" result="sg"><feFuncA type="linear" slope="0.82"/></feComponentTransfer><feMerge><feMergeNode in="shc"/><feMergeNode in="sg"/></feMerge></filter><filter id="wm2" x="-5%" y="-10%" width="112%" height="125%"><feOffset in="SourceAlpha" dx="1.4" dy="1.6" result="o"/><feComposite in="o" in2="SourceAlpha" operator="out" result="sh"/><feFlood flood-color="#8a86a8" flood-opacity="0.75"/><feComposite in2="sh" operator="in" result="shc"/><feComponentTransfer in="SourceGraphic" result="sg"><feFuncA type="linear" slope="0.76"/></feComponentTransfer><feMerge><feMergeNode in="shc"/><feMergeNode in="sg"/></feMerge></filter></defs>
<g id="wm1" transform="translate(1283,788.2) skewX(-15)" filter="url(#wm)"><text x="0" y="0" font-size="59.5" font-weight="900" fill="#fff" textLength="238" lengthAdjust="spacingAndGlyphs">海马财经</text></g>
<g id="wm2" filter="url(#wm2)"><text x="1298.5 1324.6 1353.1 1378.4 1397.2 1433.8 1455.9 1475.4 1500.7" y="827.4" font-size="35" font-weight="bold" font-style="italic" fill="#52afd0" stroke="#52afd0" stroke-width="1.3" stroke-linejoin="round">zzrt01.cn</text></g>
</svg></body></html>
